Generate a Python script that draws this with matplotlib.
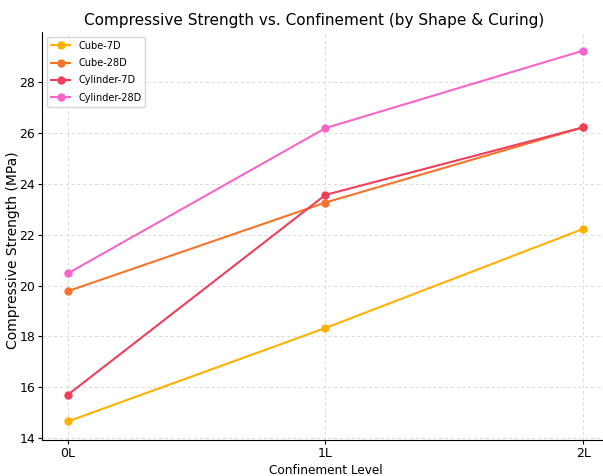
import matplotlib
matplotlib.use("Agg")
import matplotlib.pyplot as plt

levels = ["0L", "1L", "2L"]
cube_7d = [14.65, 18.33, 22.23]
cube_28d = [19.78, 23.27, 26.23]
cyl_7d = [15.7, 23.57, 26.23]
cyl_28d = [20.48, 26.2, 29.25]

series = [
    ("Cube-7D", cube_7d, "#FFB000"),
    ("Cube-28D", cube_28d, "#F6732C"),
    ("Cylinder-7D", cyl_7d, "#EF3F5A"),
    ("Cylinder-28D", cyl_28d, "#F765C8"),
]

fig = plt.figure(figsize=(6.03, 4.76), dpi=100)
ax = fig.add_axes([0.0697, 0.0756, 0.94, 0.857])
x = list(range(len(levels)))
for name, vals, c in series:
    ax.plot(x, vals, marker="o", markersize=5, linewidth=1.5, color=c, label=name)

ax.set_xticks(x)
ax.set_xticklabels(levels)
ax.set_yticks([14, 16, 18, 20, 22, 24, 26, 28])
ax.tick_params(labelsize=9, pad=2, length=3)
ax.grid(True, linestyle=(0, (3, 3)), color="#d8d8d8", linewidth=0.7)
ax.set_title("Compressive Strength vs. Confinement (by Shape & Curing)", fontsize=11, pad=5, x=0.48)
ax.set_xlabel("Confinement Level", fontsize=8.7, labelpad=3)
ax.set_ylabel("Compressive Strength (MPa)", fontsize=10)
ax.yaxis.set_label_coords(-0.039, 0.466)
ax.legend(loc="upper left", fontsize=7, frameon=True, handlelength=2.0, labelspacing=0.75)
for s in ["top", "right"]:
    ax.spines[s].set_visible(False)
fig.savefig("out.png", dpi=100)
